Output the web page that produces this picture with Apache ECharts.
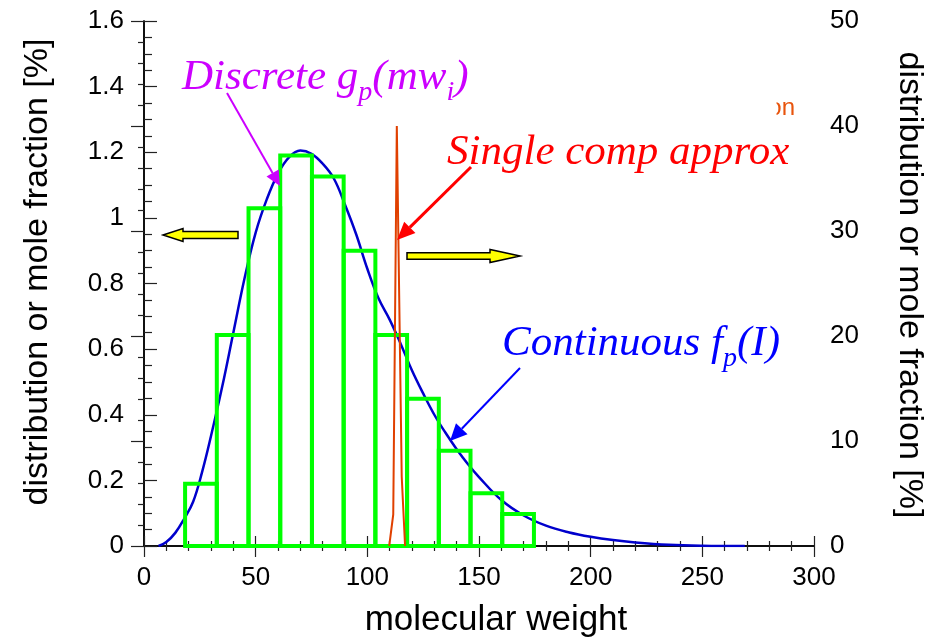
<!DOCTYPE html>
<html>
<head>
<meta charset="utf-8">
<script src="https://cdn.jsdelivr.net/npm/echarts@6/dist/echarts.min.js"></script>
<style>
  html, body { margin: 0; padding: 0; background: #fff; }
  #chart { width: 936px; height: 637px; }
</style>
</head>
<body>
<div id="chart"></div>
<script>
// Continuous distribution f_p(I) (left axis, %)
var mwCurve = [6.5, 10, 14, 18, 22, 26, 30, 35, 40, 45, 50, 55, 60, 65, 70, 75, 80, 85, 90, 95,
               100, 105, 110, 115, 120, 125, 130, 135, 140, 145, 150, 160, 170, 180, 190, 200,
               210, 220, 235, 250, 269];
var fpCurve = [0, 0.012, 0.04, 0.083, 0.135, 0.225, 0.335, 0.485, 0.65, 0.815, 0.955, 1.057,
               1.135, 1.185, 1.205, 1.195, 1.165, 1.12, 1.04, 0.95, 0.845, 0.755, 0.69, 0.615,
               0.535, 0.465, 0.40, 0.345, 0.295, 0.25, 0.21, 0.14, 0.093, 0.062, 0.042, 0.028,
               0.018, 0.011, 0.004, 0.001, 0];

// Discrete g_p(mw_i): bin edges and mole fractions (left axis, %)
var binEdges = [18.4, 32.6, 46.8, 61.0, 75.2, 89.4, 103.6, 117.8, 132.0, 146.2, 160.4, 174.6];
var binValues = [0.19, 0.643, 1.029, 1.19, 1.126, 0.90, 0.643, 0.449, 0.29, 0.161, 0.0975];

// Single component approximation (right axis, %)
var mwSingle = [109.8, 111.6, 113.2, 113.9, 115.4, 116.9];
var fracSingle = [0, 3.0, 40, 40, 6.6, 0];

// Axis tick settings
var xTicks = { min: 0, max: 300, interval: 50 };
var yLeftTicks = { min: 0, max: 1.6, interval: 0.2 };
var yRightTicks = { min: 0, max: 50, interval: 10 };

function pairs(xs, ys) {
  return xs.map(function (x, i) { return [x, ys[i]]; });
}
var binData = binValues.map(function (v, i) { return [binEdges[i], binEdges[i + 1], v]; });

var labelFont = { fontFamily: 'Liberation Sans, Arial, sans-serif', fontSize: 26, color: '#000' };

function arrow(x1, y1, x2, y2, color, width, headLen, headW) {
  var dx = x2 - x1, dy = y2 - y1;
  var len = Math.sqrt(dx * dx + dy * dy);
  var ux = dx / len, uy = dy / len;
  var bx = x2 - ux * headLen, by = y2 - uy * headLen;
  var px = -uy * headW / 2, py = ux * headW / 2;
  return [
    { type: 'line', shape: { x1: x1, y1: y1, x2: bx, y2: by },
      style: { stroke: color, lineWidth: width }, z: 100 },
    { type: 'polygon', shape: { points: [[x2, y2], [bx + px, by + py], [bx - px, by - py]] },
      style: { fill: color }, z: 100 }
  ];
}

function blockArrow(tipX, y, headX, tailX, bodyHalf, headHalf) {
  return {
    type: 'polygon', z: 100,
    shape: { points: [
      [tipX, y], [headX, y - headHalf], [headX, y - bodyHalf], [tailX, y - bodyHalf],
      [tailX, y + bodyHalf], [headX, y + bodyHalf], [headX, y + headHalf]
    ] },
    style: { fill: '#ffff00', stroke: '#000', lineWidth: 1.5 }
  };
}

function richLabel(x, y, text, color) {
  var main = { fontSize: 43, fontFamily: 'Liberation Serif, Times New Roman, serif',
               fontStyle: 'italic', fill: color, lineHeight: 58, verticalAlign: 'middle' };
  var sub = { fontSize: 28, fontFamily: 'Liberation Serif, Times New Roman, serif',
              fontStyle: 'italic', fill: color, lineHeight: 58, verticalAlign: 'bottom' };
  return {
    type: 'text', x: x, y: y, z: 100,
    style: { text: text, align: 'left', verticalAlign: 'middle', rich: { m: main, s: sub } }
  };
}

var graphics = [];
graphics.push(richLabel(182, 78, '{m|Discrete g}{s|p}{m|(mw}{s|i}{m|)}', '#cc00ff'));
graphics.push(richLabel(447, 153, '{m|Single comp approx}', '#ff0000'));
graphics.push(richLabel(502, 344, '{m|Continuous f}{s|p}{m|(I)}', '#0000ff'));
graphics = graphics.concat(arrow(227, 93, 280, 186, '#cc00ff', 2, 15, 14));
graphics = graphics.concat(arrow(471, 167, 397, 240, '#ff0000', 3, 18, 16));
graphics = graphics.concat(arrow(520, 368, 450, 441, '#0000ff', 2, 17, 16));
graphics.push(blockArrow(163, 235, 183, 238, 3.5, 6.5));
graphics.push(blockArrow(520, 256, 490, 407, 3.2, 6.5));
// partially hidden legend text in the upper right corner
graphics.push({ type: 'text', x: 795, y: 108, z: 90,
  style: { text: 'on', align: 'right', verticalAlign: 'middle', fill: '#e8540c',
           fontSize: 24, fontFamily: 'Liberation Sans, Arial, sans-serif' } });
graphics.push({ type: 'rect', z: 95, shape: { x: 760, y: 94, width: 16.5, height: 28 },
  style: { fill: '#fff' } });
// axis titles
graphics.push({ type: 'text', x: 496, y: 620, z: 100,
  style: { text: 'molecular weight', align: 'center', verticalAlign: 'middle', fill: '#000',
           fontSize: 35, fontFamily: 'Liberation Sans, Arial, sans-serif' } });
graphics.push({ type: 'text', x: 38, y: 272, rotation: Math.PI / 2, z: 100,
  style: { text: 'distribution or mole fraction [%]', align: 'center', verticalAlign: 'middle',
           fill: '#000', fontSize: 34, fontFamily: 'Liberation Sans, Arial, sans-serif' } });
graphics.push({ type: 'text', x: 909, y: 285, rotation: -Math.PI / 2, z: 100,
  style: { text: 'distribution or mole fraction [%]', align: 'center', verticalAlign: 'middle',
           fill: '#000', fontSize: 34, fontFamily: 'Liberation Sans, Arial, sans-serif' } });

var axisLine = { show: true, lineStyle: { color: '#000', width: 1.5 } };
var tickLine = { color: '#222', width: 1.2 };

// ticks point into the plot area
function ticks(major, minor, split) {
  return {
    axisTick: { inside: false, length: -major, lineStyle: tickLine },
    minorTick: { show: true, splitNumber: split, length: -minor, lineStyle: tickLine }
  };
}

var option = {
  animation: false,
  backgroundColor: '#fff',
  grid: { left: 144, right: 122, top: 21, bottom: 91, containLabel: false },
  xAxis: [
    Object.assign({ type: 'value', position: 'bottom', min: xTicks.min, max: xTicks.max, interval: xTicks.interval,
      axisLine: axisLine,
      axisLabel: Object.assign({ margin: 19 }, labelFont),
      splitLine: { show: false } }, ticks(10, 5, 5)),
    Object.assign({ type: 'value', position: 'top', min: xTicks.min, max: xTicks.max, interval: xTicks.interval,
      axisLine: axisLine,
      axisLabel: { show: false },
      splitLine: { show: false } }, ticks(11, 5, 5))
  ],
  yAxis: [
    Object.assign({ type: 'value', position: 'left', min: yLeftTicks.min, max: yLeftTicks.max, interval: yLeftTicks.interval,
      axisLine: axisLine,
      axisLabel: Object.assign({ margin: 20 }, labelFont),
      splitLine: { show: false } }, ticks(13, 8, 4)),
    Object.assign({ type: 'value', position: 'right', min: yRightTicks.min, max: yRightTicks.max, interval: yRightTicks.interval,
      axisLine: axisLine,
      axisLabel: Object.assign({ margin: 16 }, labelFont),
      splitLine: { show: false } }, ticks(13, 6, 5))
  ],
  series: [
    { name: 'Continuous', type: 'line', xAxisIndex: 0, yAxisIndex: 0,
      data: pairs(mwCurve, fpCurve), smooth: 0.4, symbol: 'none', z: 3,
      lineStyle: { color: '#0000cc', width: 2.5 } },
    { name: 'Discrete', type: 'custom', xAxisIndex: 0, yAxisIndex: 0, z: 4,
      data: binData,
      renderItem: function (params, api) {
        var p0 = api.coord([api.value(0), api.value(2)]);
        var p1 = api.coord([api.value(1), 0]);
        return { type: 'rect',
          shape: { x: p0[0], y: p0[1], width: p1[0] - p0[0], height: p1[1] - p0[1] },
          style: { fill: 'none', stroke: '#00ff00', lineWidth: 4 } };
      } },
    { name: 'Single comp', type: 'line', xAxisIndex: 0, yAxisIndex: 1,
      data: pairs(mwSingle, fracSingle), symbol: 'none', z: 5,
      lineStyle: { color: '#e04000', width: 2 } }
  ],
  graphic: graphics
};

var chart = echarts.init(document.getElementById('chart'), null, { renderer: 'canvas' });
chart.setOption(option);
</script>
</body>
</html>
